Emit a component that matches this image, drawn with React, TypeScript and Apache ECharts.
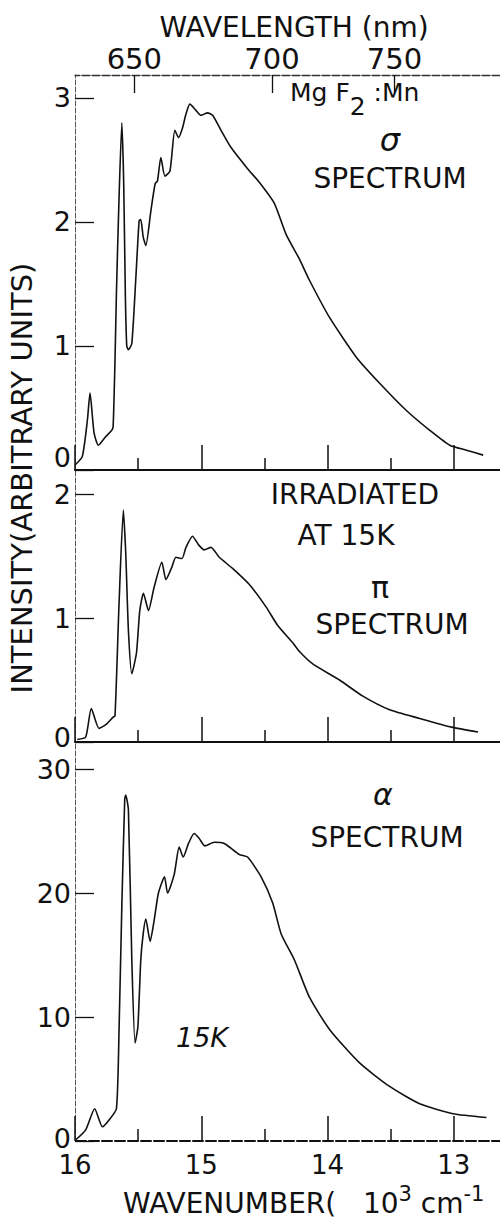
import React, { useEffect, useRef } from "react";
import * as echarts from "echarts";

// Axis ticks / labels
const wavenumberMajor = [16, 15, 14, 13];
const wavelengthLabels = ["650", "700", "750"];
// wavenumber (10^3 cm^-1) positions where the wavelength ticks appear on the top scale
const wavelengthTickPos = [15.53, 14.44, 13.47];
const sigmaYTicks = [0, 1, 2, 3];
const piYTicks = [0, 1, 2];
const alphaYTicks = [0, 10, 20, 30];

// sigma spectrum (top)
const sigmaWavenumber = [16.0, 15.942, 15.902, 15.881, 15.849, 15.815, 15.756, 15.709, 15.698, 15.683, 15.672, 15.651, 15.629, 15.614, 15.601, 15.59, 15.577, 15.55, 15.518, 15.492, 15.479, 15.46, 15.439, 15.399, 15.365, 15.347, 15.32, 15.288, 15.248, 15.209, 15.18, 15.148, 15.121, 15.09, 15.042, 15.002, 14.95, 14.91, 14.844, 14.764, 14.633, 14.54, 14.421, 14.328, 14.222, 14.143, 13.984, 13.772, 13.587, 13.375, 13.19, 13.032, 12.899, 12.767];
const sigmaIntensity = [0.04, 0.11, 0.4, 0.62, 0.3, 0.2, 0.27, 0.32, 0.35, 0.89, 1.42, 2.2, 2.8, 2.3, 1.4, 1.0, 0.97, 1.02, 1.55, 2.01, 2.02, 1.88, 1.81, 2.09, 2.31, 2.33, 2.52, 2.37, 2.41, 2.74, 2.68, 2.76, 2.87, 2.95, 2.9, 2.86, 2.88, 2.86, 2.74, 2.6, 2.43, 2.32, 2.15, 1.9, 1.7, 1.53, 1.23, 0.91, 0.7, 0.48, 0.32, 0.2, 0.16, 0.12];

// pi spectrum (middle)
const piWavenumber = [15.982, 15.915, 15.871, 15.81, 15.756, 15.698, 15.683, 15.651, 15.617, 15.598, 15.577, 15.55, 15.513, 15.487, 15.458, 15.418, 15.373, 15.312, 15.28, 15.233, 15.201, 15.153, 15.121, 15.069, 15.021, 14.976, 14.923, 14.857, 14.752, 14.619, 14.487, 14.394, 14.275, 14.222, 14.117, 13.905, 13.72, 13.508, 13.27, 13.018, 12.807];
const piIntensity = [0.02, 0.04, 0.27, 0.11, 0.14, 0.2, 0.21, 1.12, 1.87, 1.52, 0.9, 0.55, 0.72, 1.06, 1.2, 1.06, 1.25, 1.45, 1.31, 1.41, 1.49, 1.48, 1.57, 1.66, 1.59, 1.55, 1.57, 1.49, 1.4, 1.27, 1.09, 0.94, 0.8, 0.73, 0.63, 0.5, 0.37, 0.26, 0.19, 0.12, 0.08];

// alpha spectrum (bottom)
const alphaWavenumber = [15.994, 15.915, 15.844, 15.783, 15.73, 15.672, 15.651, 15.629, 15.606, 15.598, 15.577, 15.55, 15.524, 15.502, 15.479, 15.46, 15.439, 15.405, 15.373, 15.339, 15.291, 15.267, 15.214, 15.175, 15.143, 15.101, 15.056, 15.016, 14.971, 14.897, 14.817, 14.698, 14.633, 14.526, 14.434, 14.367, 14.262, 14.143, 13.984, 13.746, 13.508, 13.27, 13.006, 12.741];
const alphaIntensity = [0.1, 0.9, 2.6, 1.15, 1.7, 2.6, 9.0, 19.0, 27.6, 27.9, 26.7, 14.6, 7.9, 9.2, 14.6, 16.7, 17.9, 16.1, 17.8, 20.0, 21.3, 20.0, 21.5, 23.7, 22.9, 24.0, 24.8, 24.4, 23.8, 24.1, 24.0, 23.1, 22.9, 21.3, 19.2, 16.7, 14.6, 11.6, 9.0, 6.3, 4.4, 3.0, 2.2, 1.9];

const FONT = "DejaVu Sans";
const INK = "#111";

function pairs(xs: number[], ys: number[]) {
  return xs.map((x, i) => [x, ys[i]]);
}

function bottomXAxis(gridIndex: number, showLabels: boolean, dashed: boolean) {
  return {
    type: "value",
    gridIndex,
    position: "bottom",
    min: 12,
    max: 16,
    interval: 1,
    inverse: true,
    axisLine: { show: true, onZero: false, lineStyle: { color: INK, width: 2, type: dashed ? [10, 3] : "solid" } },
    axisTick: { show: true, inside: true, length: 25, lineStyle: { color: INK, width: 1.5 } },
    minorTick: { show: true, splitNumber: 2, length: 12, lineStyle: { color: INK, width: 1.5 } },
    splitLine: { show: false },
    minorSplitLine: { show: false },
    axisLabel: {
      show: showLabels,
      customValues: wavenumberMajor,
      formatter: (v: number) => String(v),
      fontSize: 26,
      fontFamily: FONT,
      color: INK,
      margin: 11,
    },
  };
}

function leftYAxis(gridIndex: number, max: number, ticks: number[], raiseZero: number) {
  return {
    type: "value",
    gridIndex,
    min: 0,
    max,
    axisLine: { show: true, onZero: false, lineStyle: { color: "#555", width: 1, type: [5, 2] } },
    axisTick: { show: true, inside: true, length: 19, customValues: ticks, lineStyle: { color: INK, width: 1.3 } },
    splitLine: { show: false },
    axisLabel: {
      customValues: ticks,
      fontSize: 27,
      fontFamily: FONT,
      color: INK,
      margin: 4,
      formatter: (v: number) => (v === 0 && raiseZero > 0 ? "{z|0}" : String(v)),
      rich: { z: { fontSize: 27, fontFamily: FONT, color: INK, padding: [0, 0, raiseZero * 2, 0] } },
    },
  };
}

export default function App() {
  const ref = useRef<HTMLDivElement>(null);

  useEffect(() => {
    if (!ref.current) return;
    const chart = echarts.init(ref.current, undefined, { renderer: "svg" });

    const lineSeries = (data: number[][], xi: number, yi: number) => ({
      type: "line",
      xAxisIndex: xi,
      yAxisIndex: yi,
      data,
      showSymbol: false,
      smooth: 0.2,
      clip: true,
      lineStyle: { color: INK, width: 1.6 },
      silent: true,
    });

    const txt = (text: string, x: number, y: number, fontSize: number, extra: any = {}) => ({
      type: "text",
      x,
      y,
      ...(extra.rotation !== undefined ? { rotation: extra.rotation } : {}),
      style: {
        text,
        fontSize,
        fontFamily: FONT,
        fill: INK,
        align: extra.align || "center",
        verticalAlign: extra.verticalAlign || "middle",
        fontStyle: extra.fontStyle || "normal",
        ...(extra.rich ? { rich: extra.rich } : {}),
      },
    });

    const gridBase = { left: 75, right: -80, outerBoundsMode: "none", containLabel: false };

    chart.setOption({
      animation: false,
      backgroundColor: "#fff",
      grid: [
        { ...gridBase, top: 75, height: 395 },
        { ...gridBase, top: 470, height: 272 },
        { ...gridBase, top: 742, height: 399 },
      ],
      xAxis: [
        bottomXAxis(0, false, false),
        {
          type: "value",
          gridIndex: 0,
          position: "top",
          min: 12,
          max: 16,
          inverse: true,
          axisLine: { show: true, onZero: false, lineStyle: { color: "#333", width: 1.3, type: [8, 2] } },
          axisTick: { show: true, inside: true, length: 18, customValues: wavelengthTickPos, lineStyle: { color: INK, width: 1.3 } },
          splitLine: { show: false },
          axisLabel: {
            customValues: wavelengthTickPos,
            formatter: (v: number) => {
              const i = wavelengthTickPos.findIndex((p) => Math.abs(p - v) < 1e-6);
              return i >= 0 ? wavelengthLabels[i] : "";
            },
            fontSize: 29,
            fontFamily: FONT,
            color: INK,
            margin: 2,
          },
        },
        bottomXAxis(1, false, false),
        bottomXAxis(2, true, true),
      ],
      yAxis: [
        leftYAxis(0, 3.185, sigmaYTicks, 13),
        leftYAxis(1, 2.194, piYTicks, 5),
        leftYAxis(2, 32.18, alphaYTicks, 3),
      ],
      series: [
        lineSeries(pairs(sigmaWavenumber, sigmaIntensity), 0, 0),
        lineSeries(pairs(piWavenumber, piIntensity), 2, 1),
        lineSeries(pairs(alphaWavenumber, alphaIntensity), 3, 2),
      ],
      graphic: [
        txt("WAVELENGTH (nm)", 294, 27, 28),
        txt("{a|Mg F}{b|2}{a| :Mn}", 290, 92, 25, {
          align: "left",
          rich: {
            a: { fontSize: 25, fontFamily: FONT, fill: INK },
            b: { fontSize: 25, fontFamily: FONT, fill: INK, padding: [28, 0, 0, 0] },
          },
        }),
        txt("σ", 390, 140, 32, { fontStyle: "italic" }),
        txt("SPECTRUM", 390, 178, 28),
        txt("IRRADIATED", 355, 494, 28),
        txt("AT 15K", 346, 535, 28),
        txt("π", 380, 587, 30),
        txt("SPECTRUM", 392, 624, 28),
        txt("α", 383, 794, 30, { fontStyle: "italic" }),
        txt("SPECTRUM", 387, 837, 28),
        txt("15K", 202, 1037, 27, { fontStyle: "italic" }),
        txt("INTENSITY(ARBITRARY UNITS)", 22, 478, 29, { rotation: Math.PI / 2 }),
        txt("{a|WAVENUMBER(   10}{s|3}{a| cm}{s|-1}", 123, 1217, 28, {
          align: "left",
          verticalAlign: "bottom",
          rich: {
            a: { fontSize: 28, fontFamily: FONT, fill: INK, verticalAlign: "bottom" },
            s: { fontSize: 21, fontFamily: FONT, fill: INK, verticalAlign: "top", padding: [0, 0, 13, 0] },
          },
        }),
      ],
    });

    return () => chart.dispose();
  }, []);

  return (
    <div
      ref={ref}
      style={{ position: "absolute", left: 0, top: 0, width: 500, height: 1218, overflow: "hidden" }}
    />
  );
}
